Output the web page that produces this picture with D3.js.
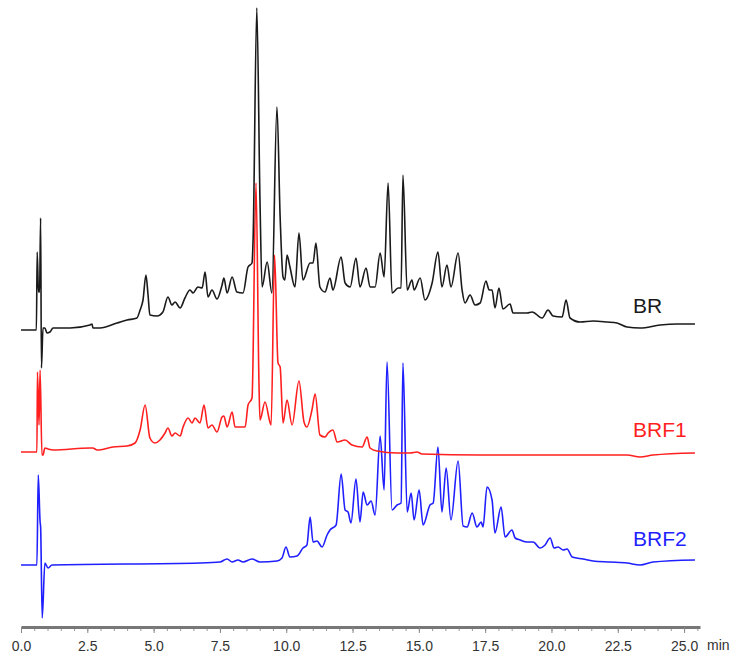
<!DOCTYPE html>
<html>
<head>
<meta charset="utf-8">
<script src="https://cdn.jsdelivr.net/npm/d3@7"></script>
<style>
  body { margin: 0; background: #fff; }
  svg { display: block; font-family: Arial, "Liberation Sans", sans-serif; }
</style>
</head>
<body>
<svg></svg>
<script>
var width = 733;
var height = 656;

// retention time (min) and signal (mAU above each trace's own baseline)
var brTime = [0, 0.53, 0.58, 0.61, 0.66, 0.70, 0.74, 0.77, 0.83, 0.90, 0.98, 1.09, 1.21, 1.85, 2.60, 2.68, 2.71, 2.98,
  3.62, 4.00, 4.37, 4.49, 4.60, 4.71, 4.79, 4.86, 5.13, 5.35, 5.54, 5.69, 5.81, 6.00, 6.18, 6.37, 6.49, 6.67, 6.83,
  6.94, 7.05, 7.20, 7.39, 7.58, 7.65, 7.77, 7.96, 8.14, 8.37, 8.56, 8.71, 8.75, 8.89, 9.01, 9.09, 9.28, 9.46, 9.65,
  9.77, 9.88, 9.95, 10.03, 10.14, 10.33, 10.48, 10.63, 10.90, 11.01, 11.12, 11.27, 11.46, 11.65, 11.76, 12.07, 12.22,
  12.41, 12.63, 12.78, 13.01, 13.16, 13.35, 13.54, 13.69, 13.84, 13.99, 14.22, 14.33, 14.40, 14.56, 14.74, 14.82,
  15.05, 15.23, 15.50, 15.72, 15.87, 16.06, 16.21, 16.48, 16.63, 16.74, 16.93, 17.12, 17.31, 17.53, 17.65, 17.76,
  17.87, 18.02, 18.17, 18.44, 18.55, 19.08, 19.27, 19.65, 19.87, 20.06, 20.40, 20.55, 20.70, 21.08, 21.57, 22.10,
  22.47, 22.85, 23.34, 24.10, 24.74, 25.41];
var brSignal = [0, 0, 0, 78, 38, 38, 112, -38, 2, 2, -3, -2, 2, 2, 5, 6, 2, 2,
  7, 10, 12, 20, 30, 55, 35, 15, 14, 18, 33, 25, 28, 22, 32, 40, 37, 43, 42,
  58, 33, 40, 31, 45, 52, 37, 53, 38, 37, 63, 67, 90, 322, 130, 43, 68, 37, 223,
  113, 53, 50, 75, 63, 43, 97, 50, 67, 67, 87, 43, 38, 52, 40, 73, 47,
  43, 72, 43, 62, 43, 43, 77, 53, 147, 37, 42, 42, 155, 40, 50, 40,
  52, 30, 47, 78, 43, 65, 43, 77, 40, 27, 35, 25, 27, 49, 40, 40,
  22, 42, 21, 26, 17, 17, 18, 12, 20, 14, 13, 30, 12, 8, 9, 8,
  7, 3, 2, 5, 6, 6];

var brf1Time = [0, 0.60, 0.62, 0.68, 0.72, 0.79, 0.83, 0.90, 1.02, 1.21, 2.60, 2.71, 2.87, 3.47, 4.00, 4.30, 4.49,
  4.68, 4.86, 5.05, 5.24, 5.43, 5.54, 5.69, 5.81, 6.00, 6.11, 6.30, 6.45, 6.56, 6.75, 6.90, 7.05, 7.20, 7.39, 7.58,
  7.65, 7.77, 7.96, 8.07, 8.45, 8.56, 8.71, 8.86, 8.97, 9.01, 9.20, 9.43, 9.56, 9.69, 9.77, 9.88, 10.03, 10.22,
  10.48, 10.67, 10.78, 10.97, 11.09, 11.27, 11.46, 11.58, 11.76, 11.92, 12.22, 12.48, 12.86, 13.05, 13.16, 13.42,
  14.18, 14.67, 14.93, 15.12, 17.31, 22.85, 23.34, 23.83, 25.41];
var brf1Signal = [1, 1, 81, 28, 83, -2, -2, 5, 4, 3, 5, 5, 3, 6, 7, 10, 23,
  48, 15, 10, 13, 20, 25, 17, 20, 17, 26, 35, 30, 35, 30, 48, 25, 28, 21, 36,
  37, 26, 41, 26, 26, 48, 55, 270, 73, 33, 51, 28, 198, 90, 86, 30, 53, 28,
  72, 31, 26, 43, 59, 18, 16, 20, 23, 11, 13, 8, 6, 16, 5, 2,
  0, 0, 1, -1, -2, -2, -4, -2, 0];

var brf2Time = [0, 0.60, 0.65, 0.72, 0.74, 0.80, 0.90, 1.02, 1.17, 6.75, 7.50, 7.77, 7.96, 8.18, 8.37, 8.71, 9.01,
  9.65, 9.84, 9.99, 10.14, 10.41, 10.63, 10.78, 10.90, 11.01, 11.16, 11.35, 11.54, 11.65, 11.88, 12.07, 12.22,
  12.33, 12.44, 12.63, 12.78, 12.90, 13.05, 13.20, 13.35, 13.54, 13.69, 13.80, 13.99, 14.18, 14.33, 14.40, 14.56,
  14.71, 14.82, 15.01, 15.16, 15.42, 15.54, 15.72, 15.87, 16.03, 16.21, 16.48, 16.67, 16.82, 17.01, 17.19, 17.35,
  17.42, 17.57, 17.76, 17.87, 18.10, 18.25, 18.51, 18.63, 18.82, 19.08, 19.31, 19.57, 19.76, 19.95, 20.10, 20.25,
  20.44, 20.59, 20.78, 21.19, 21.57, 22.21, 22.85, 23.34, 23.83, 25.41];
var brf2Signal = [-1, -1, 89, 42, 37, -54, 1, -4, -1, 1, 2, 5, 2, 4, 2, 5, 2,
  3, 6, 17, 7, 8, 16, 19, 47, 22, 23, 17, 29, 34, 39, 90, 54,
  52, 41, 85, 42, 72, 59, 63, 49, 128, 74, 202, 54, 59, 61, 201, 52,
  71, 44, 74, 39, 59, 61, 117, 52, 96, 44, 103, 38, 37, 51, 37, 42,
  37, 77, 64, 31, 57, 27, 34, 26, 24, 22, 22, 16, 19, 26, 16, 17,
  14, 15, 7, 5, 3, 2, 1, -1, 2, 4];

var traceNames = ["BR", "BRF1", "BRF2"];
var tickLabels = ["0.0", "2.5", "5.0", "7.5", "10.0", "12.5", "15.0", "17.5", "20.0", "22.5", "25.0"];
var majorTicks = [0, 2.5, 5, 7.5, 10, 12.5, 15, 17.5, 20, 22.5, 25];

var traces = [
  { name: traceNames[0], time: brTime, signal: brSignal, offset: 296, color: "#1a1a1a", labelY: 313 },
  { name: traceNames[1], time: brf1Time, signal: brf1Signal, offset: 173, color: "#ff1f1f", labelY: 437 },
  { name: traceNames[2], time: brf2Time, signal: brf2Signal, offset: 62, color: "#1f1fff", labelY: 546 }
];

var svg = d3.select("svg")
  .attr("width", width)
  .attr("height", height);

var x = d3.scaleLinear().domain([0, 25.6]).range([21, 700]);
var y = d3.scaleLinear().domain([0, 620]).range([626, 6]);

var line = d3.line()
  .x(function(d) { return x(d[0]); })
  .y(function(d) { return y(d[1]); })
  .curve(d3.curveMonotoneX);

// draw bottom trace first so BR sits on top
traces.slice().reverse().forEach(function(t) {
  var pts = t.time.map(function(tm, i) { return [tm, t.signal[i] + t.offset]; });
  svg.append("path")
    .datum(pts)
    .attr("fill", "none")
    .attr("stroke", t.color)
    .attr("stroke-width", 1.6)
    .attr("stroke-linejoin", "round")
    .attr("d", line);

  svg.append("text")
    .attr("x", 633)
    .attr("y", t.labelY)
    .attr("fill", t.color)
    .attr("font-size", "21px")
    .text(t.name);
});

// minor ticks
svg.append("g")
  .attr("transform", "translate(0,627)")
  .call(d3.axisBottom(x).tickValues(d3.range(0, 25.6, 0.5)).tickSize(4).tickSizeOuter(0).tickFormat(""))
  .call(function(g) { g.select(".domain").remove(); })
  .selectAll("line").attr("stroke", "#999");

// major ticks + labels
var xAxis = svg.append("g")
  .attr("transform", "translate(0,627)")
  .call(d3.axisBottom(x).tickValues(majorTicks).tickSize(6).tickSizeOuter(0)
    .tickFormat(function(d, i) { return tickLabels[i]; }));

xAxis.select(".domain")
  .attr("stroke", "#777")
  .attr("stroke-width", 3);
xAxis.selectAll(".tick line").attr("stroke", "#888");
xAxis.selectAll(".tick text")
  .attr("font-size", "14px")
  .attr("font-family", "Arial, 'Liberation Sans', sans-serif")
  .attr("fill", "#333")
  .attr("dy", "1.05em");

svg.append("text")
  .attr("x", 707)
  .attr("y", 650)
  .attr("font-size", "14px")
  .attr("fill", "#333")
  .text("min");
</script>
</body>
</html>
